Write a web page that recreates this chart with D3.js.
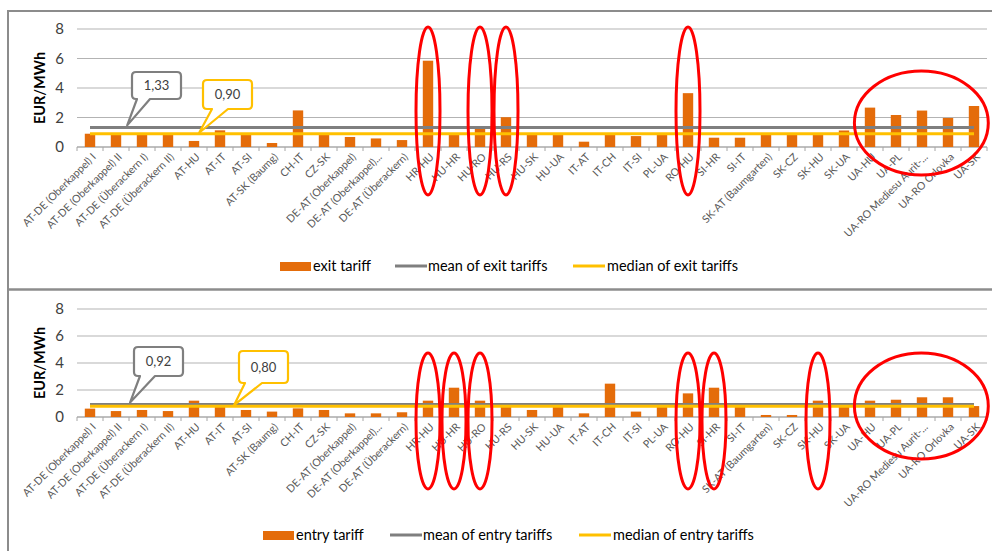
<!DOCTYPE html>
<html><head><meta charset="utf-8">
<script src="https://cdn.jsdelivr.net/npm/d3@7/dist/d3.min.js"></script>
<style>
html,body{margin:0;padding:0;background:#fff;}
svg{display:block;font-family:Lato, "Liberation Sans", sans-serif;}
</style></head>
<body>
<svg id="c" width="992" height="551"></svg>
<script>
const categories = ["AT-DE (Oberkappel) I","AT-DE (Oberkappel) II","AT-DE (Überackern I)","AT-DE (Überackern II)","AT-HU","AT-IT","AT-SI","AT-SK (Baumg)","CH-IT","CZ-SK","DE-AT (Oberkappel)","DE-AT (Oberkappel)...","DE-AT (Überackern)","HR-HU","HU-HR","HU-RO","HU-RS","HU-SK","HU-UA","IT-AT","IT-CH","IT-SI","PL-UA","RO-HU","SI-HR","SI-IT","SK-AT (Baumgarten)","SK-CZ","SK-HU","SK-UA","UA-HU","UA-PL","UA-RO Mediesu Aurit-...","UA-RO Orlovka","UA-SK"];
const exitTariff = [0.90,0.90,0.90,0.90,0.41,1.13,0.90,0.27,2.48,0.90,0.68,0.58,0.47,5.85,0.90,1.25,2.02,0.90,0.90,0.36,0.90,0.74,0.90,3.65,0.63,0.63,0.90,0.90,0.90,1.12,2.67,2.17,2.47,1.97,2.78];
const entryTariff = [0.62,0.44,0.52,0.44,1.21,0.80,0.52,0.40,0.64,0.52,0.27,0.27,0.35,1.21,2.17,1.21,0.80,0.52,0.80,0.27,2.47,0.40,0.80,1.75,2.17,0.80,0.15,0.15,1.21,0.80,1.21,1.28,1.46,1.46,0.81];
const exitMean = 1.33, exitMedian = 0.90;
const entryMean = 0.92, entryMedian = 0.80;
const yTicks = [0,2,4,6,8];
const exitLegend = ["exit tariff","mean of exit tariffs","median of exit tariffs"];
const entryLegend = ["entry tariff","mean of entry tariffs","median of entry tariffs"];
const exitHighlights = ["HR-HU","HU-RO","HU-RS","RO-HU"];
const entryHighlights = ["HR-HU","HU-HR","HU-RO","RO-HU","SI-HR","SK-HU"];
const groupHighlight = ["UA-HU","UA-SK"];

const C = {bar:"#e46c0a", mean:"#7f7f7f", median:"#ffc000", grid:"#b3b3b3", text:"#404040", red:"#ff0000", frame:"#8c8c8c"};
const svg = d3.select("#c");

// panel frames
svg.append("path").attr("d","M8,553 L8,11 L992,11").attr("fill","none").attr("stroke",C.frame).attr("stroke-width",2);
svg.append("line").attr("x1",8).attr("x2",992).attr("y1",289.5).attr("y2",289.5).attr("stroke",C.frame).attr("stroke-width",2.5);

const x = d3.scaleBand().domain(categories).range([77,987]).paddingInner(0.6).paddingOuter(0.3);
const step = x.step();
const cx = c => x(c) + x.bandwidth()/2;

function callout(g, tipX, tipY, bx, by, bw, bh, b1, b2, color, label){
  const r = 4;
  const p = d3.path();
  p.moveTo(bx+r,by);
  p.lineTo(bx+bw-r,by); p.quadraticCurveTo(bx+bw,by,bx+bw,by+r);
  p.lineTo(bx+bw,by+bh-r); p.quadraticCurveTo(bx+bw,by+bh,bx+bw-r,by+bh);
  p.lineTo(bx+b2,by+bh); p.lineTo(tipX,tipY); p.lineTo(bx+b1,by+bh);
  p.lineTo(bx+r,by+bh); p.quadraticCurveTo(bx,by+bh,bx,by+bh-r);
  p.lineTo(bx,by+r); p.quadraticCurveTo(bx,by,bx+r,by);
  p.closePath();
  g.append("path").attr("d",p.toString()).attr("fill","#fff").attr("stroke",color).attr("stroke-width",2.2).attr("stroke-linejoin","round");
  g.append("text").attr("x",bx+bw/2).attr("y",by+bh/2).attr("dy","0.35em").attr("text-anchor","middle")
    .attr("font-size",13).attr("fill",C.text).text(label);
}

function panel(cfg){
  const y = d3.scaleLinear().domain([0,8]).range([cfg.y0, cfg.y0-118*cfg.k]);
  const g = svg.append("g");
  g.selectAll(".grid").data(yTicks).join("line")
    .attr("x1",77).attr("x2",987).attr("y1",d=>y(d)).attr("y2",d=>y(d))
    .attr("stroke",C.grid).attr("stroke-width",1.2);
  g.selectAll(".yt").data(yTicks).join("text")
    .attr("x",64).attr("y",d=>y(d)).attr("dy","0.35em").attr("text-anchor","end")
    .attr("font-size",15).attr("fill",C.text).text(d=>d);
  g.append("text").attr("transform",`translate(45,${(y(0)+y(8))/2}) rotate(-90)`)
    .attr("text-anchor","middle").attr("font-size",14.5).attr("font-weight","bold").attr("fill","#000").text("EUR/MWh");
  g.append("line").attr("x1",77).attr("x2",987).attr("y1",y(0)).attr("y2",y(0)).attr("stroke","#a6a6a6").attr("stroke-width",1.2);
  g.selectAll(".tk").data(d3.range(categories.length+1)).join("line")
    .attr("x1",i=>77+i*step).attr("x2",i=>77+i*step).attr("y1",y(0)).attr("y2",y(0)+4)
    .attr("stroke","#a6a6a6");
  g.selectAll(".bar").data(cfg.values).join("rect")
    .attr("x",(d,i)=>x(categories[i])).attr("width",x.bandwidth())
    .attr("y",d=>y(d)).attr("height",d=>y(0)-y(d)).attr("fill",C.bar);
  const ln = d3.line().x(c=>cx(c));
  g.append("path").attr("d",ln.y(()=>y(cfg.mean))(categories)).attr("stroke",C.mean).attr("stroke-width",3).attr("fill","none");
  g.append("path").attr("d",ln.y(()=>y(cfg.median))(categories)).attr("stroke",C.median).attr("stroke-width",3).attr("fill","none");
  g.selectAll(".xl").data(categories).join("text")
    .attr("transform",c=>`translate(${cx(c)+4},${y(0)+8}) rotate(-45)`)
    .attr("text-anchor","end").attr("dy","0.35em").attr("font-size",10.6).attr("fill","#595959").text(c=>c);
  const tm = cfg.meanTip, td = cfg.medTip;
  callout(g, 77+tm*step, y(cfg.mean)-2, cfg.mBox[0], cfg.mBox[1], cfg.mBox[2], cfg.mBox[3], cfg.mBox[4], cfg.mBox[5], C.mean, cfg.meanLabel);
  callout(g, 77+td*step, y(cfg.median)-1, cfg.dBox[0], cfg.dBox[1], cfg.dBox[2], cfg.dBox[3], cfg.dBox[4], cfg.dBox[5], C.median, cfg.medLabel);
  cfg.highlights.forEach(h=>{
    g.append("ellipse").attr("cx",cx(h)).attr("cy",cfg.ellCy).attr("rx",12).attr("ry",cfg.ellRy)
      .attr("fill","none").attr("stroke",C.red).attr("stroke-width",3);
  });
  const gx0 = x(groupHighlight[0]) - step*0.4, gx1 = x(groupHighlight[1]) + step*0.75;
  g.append("ellipse").attr("cx",(gx0+gx1)/2).attr("cy",cfg.bigCy).attr("rx",(gx1-gx0)/2).attr("ry",cfg.bigRy)
    .attr("fill","none").attr("stroke",C.red).attr("stroke-width",3);
  const L = cfg.legend, ly = cfg.ly;
  g.append("rect").attr("x",L[0]).attr("y",ly-4).attr("width",31).attr("height",9).attr("fill",C.bar);
  g.append("text").attr("x",L[0]+33).attr("y",ly).attr("dy","0.35em").attr("font-size",14.5).attr("fill","#000").text(cfg.legendText[0]);
  g.append("line").attr("x1",L[1]).attr("x2",L[1]+32).attr("y1",ly).attr("y2",ly).attr("stroke",C.mean).attr("stroke-width",3);
  g.append("text").attr("x",L[1]+33).attr("y",ly).attr("dy","0.35em").attr("font-size",14.5).attr("fill","#000").text(cfg.legendText[1]);
  g.append("line").attr("x1",L[2]).attr("x2",L[2]+32).attr("y1",ly).attr("y2",ly).attr("stroke",C.median).attr("stroke-width",3);
  g.append("text").attr("x",L[2]+34).attr("y",ly).attr("dy","0.35em").attr("font-size",14.5).attr("fill","#000").text(cfg.legendText[2]);
}

panel({y0:147, k:1, values:exitTariff, mean:exitMean, median:exitMedian,
  meanLabel:"1,33", medLabel:"0,90", meanTip:1.93, medTip:4.7,
  mBox:[132,72,49,27,5,18], dBox:[203,80,49,29,9,25],
  highlights:exitHighlights, ellCy:111, ellRy:84, bigCy:123, bigRy:52,
  legend:[280,395,573], ly:266, legendText:exitLegend});
panel({y0:417, k:108/118, values:entryTariff, mean:entryMean, median:entryMedian,
  meanLabel:"0,92", medLabel:"0,80", meanTip:2.04, medTip:6.04,
  mBox:[134,347,49,29,6,21], dBox:[239,351,49,32,6,23],
  highlights:entryHighlights, ellCy:421, ellRy:68, bigCy:406, bigRy:53,
  legend:[263,390,579], ly:535, legendText:entryLegend});
</script>
</body></html>
